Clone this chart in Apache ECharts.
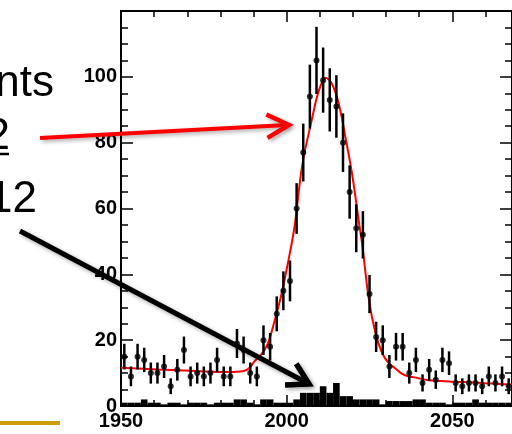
<!DOCTYPE html>
<html><head><meta charset="utf-8">
<script src="https://cdn.jsdelivr.net/npm/echarts@6/dist/echarts.min.js"></script>
<style>html,body{margin:0;padding:0;background:#fff}#c{width:512px;height:434px}</style>
</head><body><div id="c"></div>
<script>
const binCenters = [1951,1953,1955,1957,1959,1961,1963,1965,1967,1969,1971,1973,1975,1977,1979,1981,1983,1985,1987,1989,1991,1993,1995,1997,1999,2001,2003,2005,2007,2009,2011,2013,2015,2017,2019,2021,2023,2025,2027,2029,2031,2033,2035,2037,2039,2041,2043,2045,2047,2049,2051,2053,2055,2057,2059,2061,2063,2065,2067];
const counts = [15,9,15,14,10,10,12,6,11,17,9,10,9,10,14,9,9,19,17,10,9,20,18,28,35,38,60,77,94,105,99,93,91,80,65,54,52,34,21,20,12,18,18,10,14,7,11,8,14,13,7,6,7,7,6,9,7,9,6];
const countErrors = [3.9,3,3.9,3.7,3.2,3.2,3.5,2.4,3.3,4.1,3,3.2,3,3.2,3.7,3,3,4.4,4.1,3.2,3,4.5,4.2,5.3,5.9,6.2,7.7,8.8,9.7,10.2,9.9,9.6,9.5,8.9,8.1,7.3,7.2,5.8,4.6,4.5,3.5,4.2,4.2,3.2,3.7,2.6,3.3,2.8,3.7,3.6,2.6,2.4,2.6,2.6,2.4,3,2.6,3,2.4];
const background = [1,1,1,2,1,1,0.5,1,1,0.5,1,1,1,0.5,1,1,1,2,2,1,0.5,2,2,1,1,1,2,4,4,4,6,4,7,3,3,2,2,2,2,0.5,1.5,1.5,1.5,1.5,2,2,1,1,1,0.5,1,1,1,2,1,1,1,1,1];
const fitX = [1950,1961,1973,1982,1987,1989,1990.2,1992.3,1994.2,1996.2,1998.3,2000.2,2002.3,2004.7,2007.7,2009.8,2011.8,2013.8,2015.8,2017.8,2019.8,2021.8,2022.8,2024.8,2026.8,2028.8,2030.8,2032.8,2034.6,2036.6,2038.6,2042.8,2046.6,2049.8,2057.8,2065.8,2068];
const fitY = [11.6,11.1,10.6,10.3,10.6,11.8,13.5,15.6,18.7,25.3,33.4,42.6,54,73.2,87.5,96.1,99.7,97.6,91.5,81.3,70.1,55.9,49,32.4,22.2,16.1,13,11.4,9.9,9,8.7,7.8,7.6,7.4,7.1,6.6,6.5];
const xTickLabels = [1950, 2000, 2050];
const yTickLabels = [0, 20, 40, 60, 80, 100];
const binWidth = 2;

const X0 = 1950, X1 = 2068, Y0 = 0, Y1 = 120;
const chart = echarts.init(document.getElementById('c'), null, {renderer: 'canvas'});
const axisFont = {fontFamily: 'Liberation Sans', fontWeight: 'bold', fontSize: 20, color: '#000'};

function xAx(pos, interval, len, labels) {
  return {type: 'value', position: pos, min: X0, max: X1, interval: interval,
    axisLine: {show: true, onZero: false, lineStyle: {color: '#000', width: 2}},
    axisTick: {show: true, inside: true, length: len, lineStyle: {color: '#000', width: 1.5}},
    axisLabel: {show: labels, ...axisFont, margin: 5, showMaxLabel: false, showMinLabel: true,
      formatter: v => xTickLabels.includes(v) ? String(v) : ''},
    splitLine: {show: false}};
}
function yAx(pos, interval, len, labels) {
  return {type: 'value', position: pos, min: Y0, max: Y1, interval: interval,
    axisLine: {show: true, onZero: false, lineStyle: {color: '#000', width: 2}},
    axisTick: {show: true, inside: true, length: len, lineStyle: {color: '#000', width: 1.5}},
    axisLabel: {show: labels, ...axisFont, margin: 4, showMaxLabel: false,
      formatter: v => yTickLabels.includes(v) ? String(v) : ''},
    splitLine: {show: false}};
}

function arrow(x1, y1, x2, y2, color, w, L, angDeg) {
  const a = Math.atan2(y2 - y1, x2 - x1);
  const da = angDeg * Math.PI / 180;
  const w1 = [x2 + L * Math.cos(a + Math.PI - da), y2 + L * Math.sin(a + Math.PI - da)];
  const w2 = [x2 + L * Math.cos(a + Math.PI + da), y2 + L * Math.sin(a + Math.PI + da)];
  const ex = x2 - 2 * Math.cos(a), ey = y2 - 2 * Math.sin(a);
  const sh = {shadowBlur: 4, shadowColor: 'rgba(0,0,0,0.35)', shadowOffsetX: 2, shadowOffsetY: 2};
  return [
    {type: 'line', z: 100, shape: {x1: x1, y1: y1, x2: ex, y2: ey}, style: {stroke: color, lineWidth: w, lineCap: 'butt', ...sh}},
    {type: 'polyline', z: 100, shape: {points: [w1, [x2, y2], w2]}, style: {stroke: color, lineWidth: w + 0.5, fill: null, lineJoin: 'miter', lineCap: 'butt', ...sh}}
  ];
}

const pts = binCenters.map((x, i) => [x, counts[i], countErrors[i]]);
const bg = binCenters.map((x, i) => [x, background[i]]);
const fit = fitX.map((x, i) => [x, fitY[i]]);

chart.setOption({
  animation: false,
  grid: {left: 121, right: -2, top: 11, bottom: 28, containLabel: false},
  xAxis: [xAx('bottom', 50, 11, true), xAx('bottom', 10, 6, false), xAx('top', 50, 11, false), xAx('top', 10, 6, false)],
  yAxis: [yAx('left', 20, 12, true), yAx('left', 5, 7, false), yAx('right', 20, 12, false), yAx('right', 5, 7, false)],
  series: [
    {type: 'custom', xAxisIndex: 0, yAxisIndex: 0, z: 1, data: bg,
      renderItem: (params, api) => {
        const x = api.value(0), h = api.value(1);
        const p0 = api.coord([x - binWidth / 2, 0]);
        const p1 = api.coord([x + binWidth / 2, h]);
        return {type: 'rect', shape: {x: p0[0], y: p1[1], width: p1[0] - p0[0], height: p0[1] - p1[1]}, style: {fill: '#000'}};
      }},
    {type: 'line', xAxisIndex: 0, yAxisIndex: 0, z: 3, data: fit, smooth: 0.35, showSymbol: false, symbol: 'none',
      lineStyle: {color: '#FF0000', width: 2}},
    {type: 'custom', xAxisIndex: 0, yAxisIndex: 0, z: 4, data: pts,
      renderItem: (params, api) => {
        const x = api.value(0), y = api.value(1), e = api.value(2);
        const a = api.coord([x, y - e]), b = api.coord([x, y + e]);
        return {type: 'line', shape: {x1: a[0], y1: a[1], x2: b[0], y2: b[1]}, style: {stroke: '#000', lineWidth: 2.5}};
      }},
    {type: 'scatter', xAxisIndex: 0, yAxisIndex: 0, z: 5, data: pts.map(p => [p[0], p[1]]), symbol: 'circle', symbolSize: 6,
      itemStyle: {color: '#000'}}
  ],
  graphic: [
    {type: 'text', z: 100, style: {text: 'nts', x: 54, y: 84, font: '44px "Liberation Sans"', fill: '#000', textAlign: 'right', textVerticalAlign: 'middle'}},
    {type: 'text', z: 100, style: {text: '2', x: 10, y: 137, font: '44px "Liberation Sans"', fill: '#000', textAlign: 'right', textVerticalAlign: 'middle'}},
    {type: 'line', z: 100, shape: {x1: 0, y1: 154, x2: 9, y2: 154}, style: {stroke: '#000', lineWidth: 2.5}},
    {type: 'text', z: 100, style: {text: '12', x: 37, y: 200, font: '44px "Liberation Sans"', fill: '#000', textAlign: 'right', textVerticalAlign: 'middle'}},
    {type: 'rect', z: 100, shape: {x: 0, y: 421, width: 60, height: 4}, style: {fill: '#CC9E0A'}},
    ...arrow(40, 138, 289, 125, '#FF0000', 4, 25, 28),
    ...arrow(20, 231, 309, 384, '#000000', 5, 24, 30)
  ]
});
</script>
</body></html>
